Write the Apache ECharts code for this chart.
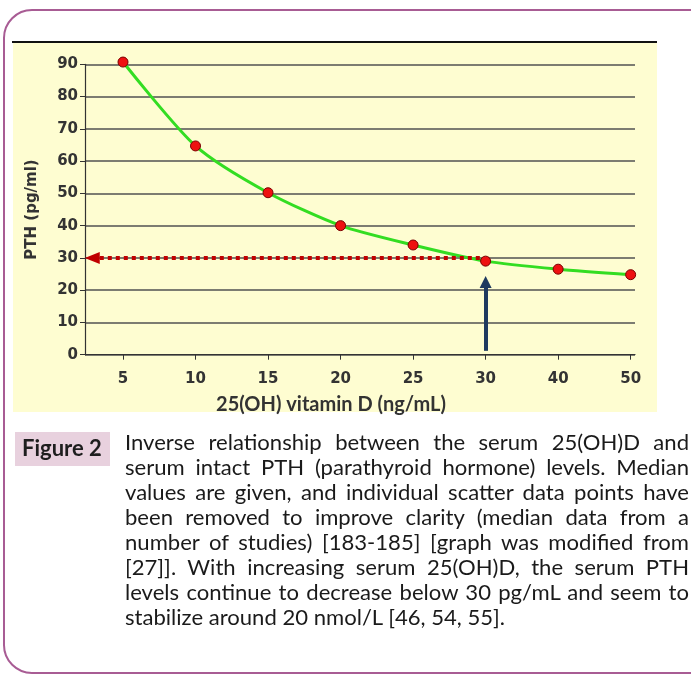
<!DOCTYPE html>
<html>
<head>
<meta charset="utf-8">
<script src="https://cdn.jsdelivr.net/npm/echarts@6/dist/echarts.min.js"></script>
<style>
html,body{margin:0;padding:0;background:#ffffff;}
#chart{position:absolute;left:0;top:0;width:691px;height:675px;}
#caption{position:absolute;left:125px;top:429px;width:564px;font-family:Lato,'Open Sans',sans-serif;color:#1a1a1a;}
#caption div{text-align:justify;text-align-last:justify;height:25px;line-height:25px;overflow:hidden;}
#caption div.last{text-align:left;text-align-last:left;}
</style>
</head>
<body>
<div id="chart"></div>
<div id="caption"></div>
<script>
// ---- data ----
const categories = ['5', '10', '15', '20', '25', '30', '40', '50'];
const pthValues = [90.7, 64.7, 50.2, 40, 34, 29, 26.5, 24.8];
const yMin = 0, yMax = 90, yInterval = 10;
const thresholdCategory = '30';
const thresholdPTH = 30;
const arrowFrom = 1.2, arrowTo = 22.5;
const yAxisTitle = 'PTH (pg/ml)';
const xAxisTitle = '25(OH) vitamin D (ng/mL)';
const figureLabel = 'Figure 2';
const captionLines = [
  'Inverse relationship between the serum 25(OH)D and',
  'serum intact PTH (parathyroid hormone) levels. Median',
  'values are given, and individual scatter data points have',
  'been removed to improve clarity (median data from a',
  'number of studies) [183-185] [graph was modified from',
  '[27]]. With increasing serum 25(OH)D, the serum PTH',
  'levels continue to decrease below 30 pg/mL and seem to',
  'stabilize around 20 nmol/L [46, 54, 55].'
];

// ---- caption (justified text) ----
(function () {
  const cv = document.createElement('canvas').getContext('2d');
  cv.font = '20px Lato';
  const wLast = cv.measureText(captionLines[captionLines.length - 1]).width;
  let size = 20 * 381 / wLast;
  captionLines.forEach(l => {
    const w = cv.measureText(l).width * size / 20;
    if (w > 558) size = size * 558 / w;
  });
  const cap = document.getElementById('caption');
  cap.style.fontSize = size.toFixed(2) + 'px';
  captionLines.forEach((l, i) => {
    const d = document.createElement('div');
    d.textContent = l;
    if (i === captionLines.length - 1) d.className = 'last';
    cap.appendChild(d);
  });
})();

// ---- chart ----
const xMin = -0.524, xMax = 7.06;
const idx = categories.map((c, i) => i);
const tIdx = categories.indexOf(thresholdCategory);
const labelFont = { fontFamily: 'DejaVu Sans', fontWeight: 'bold', fontSize: 15, color: '#333333' };

const chart = echarts.init(document.getElementById('chart'), null, { renderer: 'canvas' });
chart.setOption({
  animation: false,
  backgroundColor: 'transparent',
  grid: { left: 85, top: 64.3, width: 550, height: 290.4, containLabel: false },
  xAxis: {
    type: 'value', min: xMin, max: xMax,
    splitLine: { show: false },
    axisLine: { show: true, onZero: false, lineStyle: { color: '#333333', width: 1.2 } },
    axisTick: { show: true, customValues: idx, length: 5, lineStyle: { color: '#333333' } },
    axisLabel: Object.assign({ customValues: idx, margin: 17, formatter: v => categories[Math.round(v)] }, labelFont)
  },
  yAxis: {
    type: 'value', min: yMin, max: yMax, interval: yInterval,
    name: yAxisTitle, nameLocation: 'middle', nameGap: 45, nameRotate: 90,
    nameTextStyle: Object.assign({}, labelFont, { fontSize: 15 }),
    axisLine: { show: true, onZero: false, lineStyle: { color: '#333333', width: 1.2 } },
    axisTick: { show: true, length: 5, lineStyle: { color: '#333333' } },
    splitLine: { show: true, lineStyle: { color: '#505050', width: 1.5 } },
    axisLabel: Object.assign({ margin: 7 }, labelFont)
  },
  graphic: [
    { type: 'rect', z: -10, silent: true, shape: { x: 13, y: 42, width: 644, height: 370 }, style: { fill: '#FEFDD1' } },
    { type: 'line', z: -5, silent: true, shape: { x1: 12, y1: 42, x2: 657, y2: 42 }, style: { stroke: '#111111', lineWidth: 2 } },
    { type: 'rect', z: -5, silent: true, shape: { x: 4, y: 10, width: 740, height: 663, r: 28 }, style: { fill: 'none', stroke: '#A85C94', lineWidth: 2 } },
    { type: 'rect', z: -5, silent: true, shape: { x: 15, y: 432, width: 95, height: 34 }, style: { fill: '#E8D1DE' } },
    { type: 'text', z: 5, silent: true, x: 22, y: 449, style: { text: figureLabel, font: 'bold 22px Lato', fill: '#1e1e1e', textVerticalAlign: 'middle' } },
    { type: 'text', z: 5, silent: true, x: 331, y: 405, style: { text: xAxisTitle, font: 'bold 20px Lato', fill: '#333333', textAlign: 'center', textVerticalAlign: 'middle' } }
  ],
  series: [
    {
      type: 'line', z: 1, data: [], silent: true,
      markLine: {
        silent: true, animation: false,
        label: { show: false },
        emphasis: { disabled: true },
        data: [
          [
            { coord: [tIdx - 0.08, thresholdPTH], symbol: 'none', lineStyle: { color: '#C00000', width: 4, type: [4, 4], cap: 'butt' } },
            { coord: [xMin + 0.1, thresholdPTH], symbol: 'triangle', symbolSize: [12, 15] }
          ],
          [
            { coord: [tIdx, arrowFrom], symbol: 'none', lineStyle: { color: '#1F3A5F', width: 4, type: 'solid' } },
            { coord: [tIdx, arrowTo], symbol: 'triangle', symbolSize: [12, 12] }
          ]
        ]
      }
    },
    {
      type: 'line', z: 3, clip: false,
      data: pthValues.map((v, i) => [i, v]),
      smooth: 0.25,
      lineStyle: { color: '#33DD22', width: 3 },
      symbol: 'circle', symbolSize: 10,
      itemStyle: { color: '#EE1111', borderColor: '#7A0000', borderWidth: 1 }
    }
  ]
});
</script>
</body>
</html>
